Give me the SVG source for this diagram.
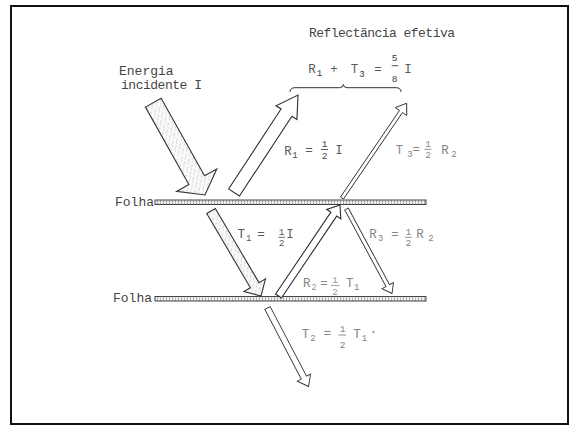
<svg xmlns="http://www.w3.org/2000/svg" width="571" height="426" viewBox="0 0 571 426">
<defs>
<pattern id="hatch" patternUnits="userSpaceOnUse" width="6" height="5">
<rect width="6" height="5" fill="#fbfbfb"/>
<line x1="1" y1="0.8" x2="2.6" y2="3.6" stroke="#b4b4b4" stroke-width="0.7"/>
<line x1="4" y1="3.3" x2="5.2" y2="5" stroke="#b4b4b4" stroke-width="0.7"/>
</pattern>
<pattern id="dots" patternUnits="userSpaceOnUse" width="3" height="2.2" y="0.2">
<rect width="3" height="2.2" fill="#f2f2f2"/>
<circle cx="1.5" cy="1.1" r="0.7" fill="#8a8a8a"/>
</pattern>
</defs>
<style>
text{font-family:"Liberation Mono","DejaVu Sans Mono",monospace;}
.t{font-size:13px;fill:#454545;}
.l{font-size:12.5px;fill:#5a5a5a;text-anchor:middle;}
.lg{font-size:12.5px;fill:#858585;text-anchor:middle;}
.s{font-size:9px;text-anchor:middle;}
.f{font-size:9.5px;text-anchor:middle;}
.fl{stroke-width:0.9;}
.bar{fill:url(#dots);stroke:#444;stroke-width:1;}
.ha{fill:url(#hatch);stroke:#333;stroke-width:1.1;stroke-linejoin:miter;}
.wa{fill:#fff;stroke:#2e2e2e;stroke-width:1.1;stroke-linejoin:miter;}
.na{fill:#fff;stroke:#333;stroke-width:0.9;stroke-linejoin:miter;}
</style>
<rect x="0" y="0" width="571" height="426" fill="#fff"/>
<rect id="frame" x="11" y="6" width="557" height="418" fill="none" stroke="#111" stroke-width="2"/>

<g id="title">
<text class="t" x="309" y="36.5" textLength="146" lengthAdjust="spacing">Reflectãncia efetiva</text>
</g>

<g id="incident-label">
<text class="t" x="119" y="74.5">Energia</text>
<text class="t" x="121" y="88.5" textLength="81" lengthAdjust="spacing">incidente I</text>
</g>

<g id="equation" fill="#3a3a3a">
<text class="l" x="312" y="73.3" fill="#3a3a3a">R</text>
<text class="s" x="319.5" y="76" fill="#3a3a3a">1</text>
<text class="l" x="334" y="72.5" fill="#3a3a3a">+</text>
<text class="l" x="354.5" y="73.3" fill="#3a3a3a">T</text>
<text class="s" x="362" y="76.5" fill="#3a3a3a">3</text>
<text class="l" x="378" y="72.5" fill="#3a3a3a">=</text>
<text class="f" x="394.7" y="60.7" fill="#3a3a3a">5</text>
<line x1="391.7" y1="65.7" x2="398.3" y2="65.7" stroke="#3a3a3a" class="fl"/>
<text class="f" x="394.7" y="81.5" fill="#3a3a3a">8</text>
<text class="l" x="408" y="73.3" fill="#3a3a3a">I</text>
<path d="M290,92 Q290,87.7 295,87.7 L339.5,87.7 Q343,87.7 343.3,84.5 Q343.6,87.7 347,87.7 L396,87.7 Q401,87.7 401,92" fill="none" stroke="#333" stroke-width="1"/>
</g>

<g id="leaf1">
<text class="t" x="115" y="206" fill="#444">Folha</text>
<rect class="bar" x="155" y="200" width="271" height="4.5"/>
</g>
<g id="leaf2">
<text class="t" x="113" y="302" fill="#555">Folha</text>
<rect class="bar" x="155" y="296.5" width="271" height="4.5"/>
</g>

<g id="connectors">
<polygon id="arrow-I" class="ha" transform="translate(153.3,102.7) rotate(60.75)" points="0,-9 88.8,-9 88.8,-23 105.8,0 88.8,23 88.8,9 0,9"/>
<polygon id="arrow-R1" class="wa" transform="translate(234,192.5) rotate(-56.7)" points="0,-6.5 95.6,-6.5 95.6,-12.5 116.6,0 95.6,12.5 95.6,6.5 0,6.5"/>
<polygon id="arrow-T3" class="na" transform="translate(342,198) rotate(-55.7)" points="0,-1.8 104.7,-1.8 104.7,-7 114.7,0 104.7,7 104.7,1.8 0,1.8"/>
<polygon id="arrow-T1" class="ha" transform="translate(211,211) rotate(59.5)" points="0,-5 86.1,-5 86.1,-12.5 98.6,0 86.1,12.5 86.1,5 0,5"/>
<polygon id="arrow-R2" class="wa" transform="translate(278.5,296) rotate(-55.95)" points="0,-3.5 98.8,-3.5 98.8,-8.5 109.8,0 98.8,8.5 98.8,3.5 0,3.5"/>
<polygon id="arrow-R3" class="na" transform="translate(346.5,209) rotate(61.7)" points="0,-2 87,-2 87,-6.5 96,0 87,6.5 87,2 0,2"/>
<polygon id="arrow-T2" class="na" transform="translate(267.5,308) rotate(62.4)" points="0,-3 78.6,-3 78.6,-7.5 88.6,0 78.6,7.5 78.6,3 0,3"/>
</g>

<g id="label-R1" fill="#4a4a4a">
<text class="l" x="288" y="154.5" fill="#4a4a4a">R</text>
<text class="s" x="295" y="157.5" fill="#4a4a4a">1</text>
<text class="l" x="309" y="154" fill="#4a4a4a">=</text>
<text class="f" x="324.5" y="147" fill="#4a4a4a">1</text>
<line x1="321" y1="149.5" x2="328" y2="149.5" stroke="#4a4a4a" class="fl"/>
<text class="f" x="324.5" y="159" fill="#4a4a4a">2</text>
<text class="l" x="339" y="154" fill="#4a4a4a">I</text>
</g>

<g id="label-T3">
<text class="lg" x="399.5" y="153.5">T</text>
<text class="s" x="410" y="156.5" fill="#858585">3</text>
<text class="lg" x="416.3" y="153">=</text>
<text class="f" x="428" y="146.5" fill="#858585">1</text>
<line x1="424.5" y1="149.3" x2="431.5" y2="149.3" stroke="#858585" class="fl"/>
<text class="f" x="428" y="158.3" fill="#858585">2</text>
<text class="lg" x="445" y="153.5">R</text>
<text class="s" x="454" y="156.5" fill="#858585">2</text>
</g>

<g id="label-T1">
<text class="l" x="241.2" y="238.3">T</text>
<text class="s" x="248.7" y="241" fill="#5a5a5a">1</text>
<text class="l" x="261" y="237.5">=</text>
<text class="f" x="281.7" y="235" fill="#5a5a5a">1</text>
<line x1="278.5" y1="237.3" x2="285" y2="237.3" stroke="#5a5a5a" class="fl"/>
<text class="f" x="281.7" y="246.3" fill="#5a5a5a">2</text>
<text class="l" x="290" y="238.3">I</text>
</g>

<g id="label-R3">
<text class="lg" x="373" y="238.3">R</text>
<text class="s" x="380.5" y="241" fill="#858585">3</text>
<text class="lg" x="395" y="237.5">=</text>
<text class="f" x="408.3" y="235" fill="#858585">1</text>
<line x1="405" y1="237.3" x2="411.7" y2="237.3" stroke="#858585" class="fl"/>
<text class="f" x="408.3" y="246.3" fill="#858585">2</text>
<text class="lg" x="420" y="238.3">R</text>
<text class="s" x="431" y="241" fill="#858585">2</text>
</g>

<g id="label-R2">
<text class="lg" x="306.7" y="287.3" fill="#999">R</text>
<text class="s" x="314" y="290" fill="#999">2</text>
<text class="lg" x="324" y="286.5" fill="#999">=</text>
<text class="f" x="335" y="282.7" fill="#999">1</text>
<line x1="331" y1="285.5" x2="339.5" y2="285.5" stroke="#999" class="fl"/>
<text class="f" x="335" y="294.5" fill="#999">2</text>
<text class="lg" x="349.7" y="287.3">T</text>
<text class="s" x="356.7" y="290" fill="#858585">1</text>
</g>

<g id="label-T2">
<text class="lg" x="305.5" y="337.5">T</text>
<text class="s" x="313" y="340.5" fill="#858585">2</text>
<text class="lg" x="327.5" y="336.5">=</text>
<text class="f" x="342.7" y="331.7" fill="#858585">1</text>
<line x1="338.5" y1="335" x2="346" y2="335" stroke="#858585" class="fl"/>
<text class="f" x="342.7" y="348" fill="#858585">2</text>
<text class="lg" x="357" y="337.5">T</text>
<text class="s" x="364.5" y="340.5" fill="#858585">1</text>
<text class="lg" x="373.3" y="336">·</text>
</g>
</svg>
